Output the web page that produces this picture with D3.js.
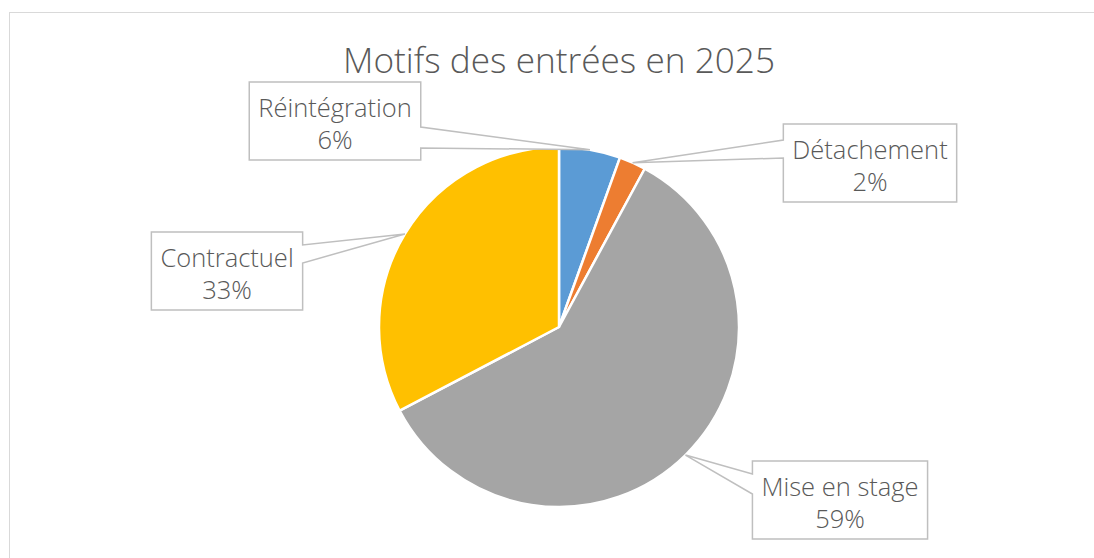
<!DOCTYPE html>
<html>
<head>
<meta charset="utf-8">
<script src="https://cdn.jsdelivr.net/npm/d3@7"></script>
<style>
  body { margin: 0; background: #fff; }
  text { font-family: "Open Sans", "Segoe UI", sans-serif; font-weight: 300; fill: #595959; }
</style>
</head>
<body>
<div id="viz"></div>
<script>
var width = 1094;
var height = 558;

// data
var categories = ["Réintégration", "Détachement", "Mise en stage", "Contractuel"];
var values = [5.5, 2.4, 59.4, 32.7];
var colors = ["#5B9BD5", "#ED7D31", "#A5A5A5", "#FFC000"];
var title = "Motifs des entrées en 2025";

// label box centres relative to pie centre, and where the pointer leaves the box
var boxOffsets = [[-224, -206], [311, -164], [281, 173], [-332, -56]];
var pointerY = [[45, 66], [16, 34], [13, 33], [13, 31]];

var cx = 559, cy = 327, radius = 180;

var svg = d3.select("#viz").append("svg")
    .attr("width", width)
    .attr("height", height);

svg.append("rect")
    .attr("x", 9.5)
    .attr("y", 12.5)
    .attr("width", width)
    .attr("height", height)
    .attr("fill", "#fff")
    .attr("stroke", "#d9d9d9");

svg.append("text")
    .attr("x", cx)
    .attr("y", 73)
    .attr("text-anchor", "middle")
    .style("font-size", "35.2px")
    .text(title);

var total = d3.sum(values);
var pct = d3.format(".0%");

var pie = d3.pie().sort(null).value(function(d) { return d; });
var arcs = pie(values);
var arc = d3.arc().innerRadius(0).outerRadius(radius);

var g = svg.append("g").attr("transform", "translate(" + cx + "," + cy + ")");

g.selectAll("path.slice")
    .data(arcs)
  .enter().append("path")
    .attr("class", "slice")
    .attr("d", arc)
    .attr("fill", function(d, i) { return colors[i]; })
    .attr("stroke", "#fff")
    .attr("stroke-width", 2.5)
    .attr("stroke-linejoin", "round");

// callouts
var boxH = 78;
arcs.forEach(function(d, i) {
  var mid = (d.startAngle + d.endAngle) / 2;
  var tip = [Math.sin(mid) * radius, -Math.cos(mid) * radius];
  var bx = boxOffsets[i][0], by = boxOffsets[i][1];

  var lab = g.append("g");
  var t1 = lab.append("text")
      .attr("x", bx).attr("y", by - 4)
      .attr("text-anchor", "middle")
      .style("font-size", "25.5px")
      .text(categories[i]);
  lab.append("text")
      .attr("x", bx).attr("y", by + 28)
      .attr("text-anchor", "middle")
      .style("font-size", "25.5px")
      .text(pct(values[i] / total));

  var w = t1.node().getComputedTextLength() + 18;
  var x0 = bx - w / 2, x1 = bx + w / 2, y0 = by - boxH / 2, y1 = by + boxH / 2;
  var p = pointerY[i];

  var pts;
  if (tip[0] > x1) {
    pts = [[x0, y0], [x1, y0], [x1, y0 + p[0]], [tip[0], tip[1]], [x1, y0 + p[1]], [x1, y1], [x0, y1]];
  } else {
    pts = [[x0, y0], [x1, y0], [x1, y1], [x0, y1], [x0, y0 + p[1]], [tip[0], tip[1]], [x0, y0 + p[0]]];
  }
  lab.insert("path", "text")
      .attr("d", d3.line()(pts) + "Z")
      .attr("fill", "#fff")
      .attr("stroke", "#bfbfbf")
      .attr("stroke-width", 1.5);
});
</script>
</body>
</html>
